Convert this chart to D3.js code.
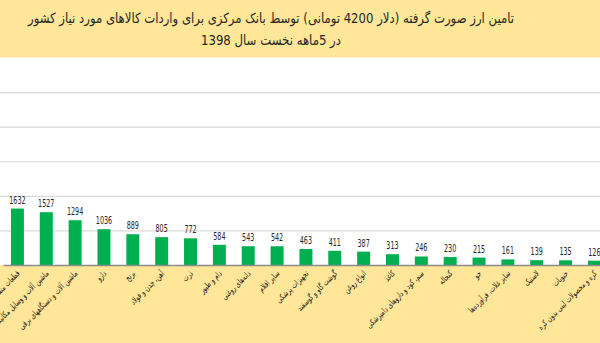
<!DOCTYPE html>
<html lang="fa">
<head>
<meta charset="utf-8">
<script src="https://cdn.jsdelivr.net/npm/d3@7"></script>
<style>
  html, body { margin: 0; padding: 0; background: #FFE699; }
  svg { display: block; }
</style>
</head>
<body>
<svg id="chart" width="600" height="343"></svg>
<script>
// Currency allocated by the central bank (4200-toman dollar) per import group, million USD
const categories = [
  "قطعات منفصله",
  "ماشین آلات و وسایل مکانیکی",
  "ماشین آلات و دستگاههای برقی",
  "دارو",
  "برنج",
  "آهن، چدن و فولاد",
  "ذرت",
  "دام و طیور",
  "دانه‌های روغنی",
  "سایر اقلام",
  "تجهیزات پزشکی",
  "گوشت گاو و گوسفند",
  "انواع روغن",
  "کاغذ",
  "سم، کود و داروهای دامپزشکی",
  "کنجاله",
  "جو",
  "سایر غلات، فرآورده‌ها",
  "لاستیک",
  "حبوبات",
  "کره و محصولات لبنی بدون کره"
];
const values = [1632, 1527, 1294, 1036, 889, 805, 772, 584, 543, 542, 463, 411, 387, 313, 246, 230, 215, 161, 139, 135, 126];
const yTicks = [0, 1000, 2000, 3000, 4000, 5000, 6000];
const titleLines = [
  "تامین ارز صورت گرفته (دلار 4200 تومانی) توسط بانک مرکزی برای واردات کالاهای مورد نیاز کشور",
  "در 5ماهه نخست سال 1398"
];

const svg = d3.select("#chart");
const W = 600, H = 343;
const faFont = "'DejaVu Sans', 'Noto Sans', sans-serif";

// Squeeze a text element horizontally to a fraction of its natural width
function condense(sel, ratio) {
  sel.each(function () {
    const len = this.getComputedTextLength();
    d3.select(this)
      .attr("textLength", len * ratio)
      .attr("lengthAdjust", "spacingAndGlyphs");
  });
}

// Background
svg.append("rect").attr("width", W).attr("height", H).attr("fill", "#FFE699");

const x = d3.scaleBand()
  .domain(categories)
  .range([3, 3 + categories.length * 28.85])
  .paddingInner(0.55)
  .paddingOuter(0.275);

const y = d3.scaleLinear().domain([0, 6000]).range([265, 57.5]);

// Plot area
svg.append("rect")
  .attr("x", 0).attr("y", y(6000))
  .attr("width", W).attr("height", y(0) - y(6000))
  .attr("fill", "#ffffff");

// Horizontal gridlines
const yAxis = d3.axisLeft(y).tickValues(yTicks.slice(1, -1)).tickSize(-W).tickFormat("");
svg.append("g")
  .call(yAxis)
  .call(g => g.select(".domain").remove())
  .call(g => g.selectAll(".tick line").attr("stroke", "#D9D9D9").attr("stroke-width", 1.2));

// Bars
svg.append("g").selectAll("rect")
  .data(values)
  .join("rect")
  .attr("x", (d, i) => x(categories[i]))
  .attr("y", d => y(d))
  .attr("width", x.bandwidth())
  .attr("height", d => y(0) - y(d))
  .attr("fill", "#00B050");

// Value labels
svg.append("g").selectAll("text")
  .data(values)
  .join("text")
  .attr("x", (d, i) => x(categories[i]) + x.bandwidth() / 2)
  .attr("y", d => y(d) - 5)
  .attr("text-anchor", "middle")
  .attr("font-family", "'DejaVu Sans Condensed', 'DejaVu Sans', sans-serif")
  .attr("font-size", 10.5)
  .attr("fill", "#262626")
  .text(d => d)
  .call(condense, 0.68);

// Category axis
const xAxis = d3.axisBottom(x).tickSize(0).tickPadding(0);
const gx = svg.append("g")
  .attr("transform", `translate(0,${y(0)})`)
  .call(xAxis);
gx.select(".domain").attr("stroke", "#8C8C8C").attr("stroke-width", 1.6);
gx.selectAll(".tick text")
  .attr("font-family", faFont)
  .attr("font-size", 8.5)
  .attr("fill", "#1a1a1a")
  .attr("text-anchor", "end")
  .attr("dy", 0)
  .attr("transform", "translate(3,9) rotate(-45)")
  .call(condense, 0.72);

// Title
const titleWidths = [486, 140];
svg.append("g").selectAll("text")
  .data(titleLines)
  .join("text")
  .attr("x", 271)
  .attr("y", (d, i) => 23 + i * 22)
  .attr("text-anchor", "middle")
  .attr("font-family", faFont)
  .attr("font-size", 14)
  .attr("fill", "#262626")
  .text(d => d)
  .attr("textLength", (d, i) => titleWidths[i])
  .attr("lengthAdjust", "spacingAndGlyphs");
</script>
</body>
</html>
